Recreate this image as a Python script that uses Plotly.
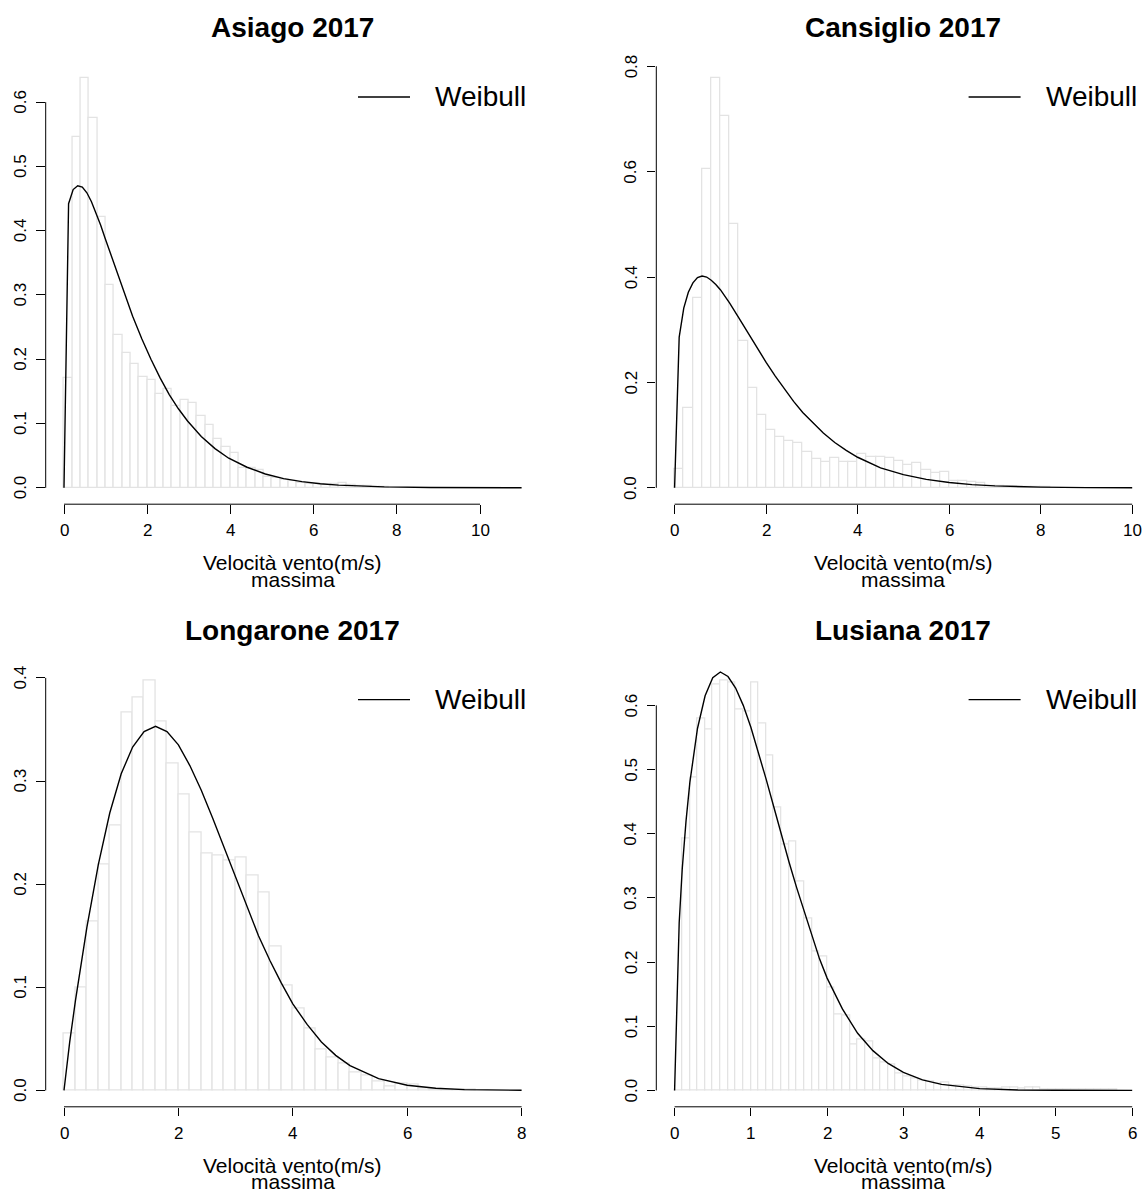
import plotly.graph_objects as go

# ---------------------------------------------------------------
# Maximum wind speed histograms (density) with fitted Weibull curve
# ---------------------------------------------------------------

# Asiago 2017
asiago_bin = 0.2
asiago_density = [0.171, 0.546, 0.637, 0.575, 0.422, 0.315, 0.237, 0.210, 0.193, 0.173,
                  0.168, 0.146, 0.153, 0.128, 0.136, 0.132, 0.112, 0.097, 0.076, 0.064,
                  0.054, 0.031, 0.031, 0.028, 0.017, 0.016, 0.012, 0.010, 0.007, 0.006,
                  0.006, 0.005, 0.006, 0.007, 0.004, 0.003, 0.003, 0.002, 0.001]
asiago_fit_x = [0, 0.11, 0.22, 0.33, 0.44, 0.55, 0.66, 0.77, 0.88, 0.99, 1.21, 1.43, 1.65,
                1.87, 2.09, 2.31, 2.53, 2.75, 2.97, 3.3, 3.63, 3.96, 4.4, 4.84, 5.28, 5.72,
                6.16, 6.6, 7.15, 7.7, 8.8, 9.9, 11.0]
asiago_fit_y = [0, 0.442, 0.464, 0.470, 0.468, 0.459, 0.445, 0.428, 0.409, 0.388, 0.347,
                0.306, 0.267, 0.232, 0.200, 0.171, 0.145, 0.123, 0.104, 0.080, 0.061, 0.046,
                0.032, 0.0215, 0.0144, 0.0096, 0.0063, 0.0042, 0.0024, 0.0014, 0.0005,
                0.00014, 0.00004]

# Cansiglio 2017
cansiglio_bin = 0.2
cansiglio_density = [0.035, 0.152, 0.361, 0.605, 0.777, 0.706, 0.500, 0.279, 0.189, 0.138,
                     0.110, 0.097, 0.089, 0.086, 0.068, 0.054, 0.049, 0.057, 0.049, 0.049,
                     0.064, 0.058, 0.058, 0.056, 0.050, 0.044, 0.048, 0.033, 0.028, 0.030,
                     0.013, 0.013, 0.012, 0.009, 0.004, 0.003, 0.002, 0.002, 0.002, 0.002,
                     0.002]
cansiglio_fit_x = [0, 0.1, 0.2, 0.3, 0.4, 0.5, 0.6, 0.7, 0.8, 0.9, 1.0, 1.2, 1.4, 1.6, 1.8,
                   2.0, 2.2, 2.4, 2.6, 2.8, 3.0, 3.25, 3.5, 3.75, 4.0, 4.5, 5.0, 5.5, 6.0,
                   6.5, 7.0, 8.0, 9.0, 10.0]
cansiglio_fit_y = [0, 0.286, 0.341, 0.371, 0.389, 0.399, 0.402, 0.400, 0.394, 0.386, 0.376,
                   0.351, 0.323, 0.294, 0.266, 0.238, 0.212, 0.187, 0.164, 0.143, 0.125,
                   0.104, 0.086, 0.071, 0.058, 0.038, 0.025, 0.016, 0.010, 0.0061, 0.0037,
                   0.0013, 0.0004, 0.0001]

# Longarone 2017
longarone_bin = 0.2
longarone_density = [0.055, 0.100, 0.164, 0.219, 0.257, 0.366, 0.381, 0.397, 0.358, 0.317,
                     0.287, 0.250, 0.230, 0.228, 0.223, 0.226, 0.208, 0.192, 0.139, 0.102,
                     0.079, 0.060, 0.040, 0.032, 0.026, 0.017, 0.014, 0.009, 0.004, 0.007,
                     0.006, 0.002, 0.001, 0.001, 0.001, 0.001]
longarone_fit_x = [0, 0.1, 0.2, 0.4, 0.6, 0.8, 1.0, 1.2, 1.4, 1.6, 1.8, 2.0, 2.2, 2.4, 2.6,
                   2.8, 3.0, 3.2, 3.4, 3.6, 3.8, 4.0, 4.25, 4.5, 4.75, 5.0, 5.5, 6.0, 6.5,
                   7.0, 8.0]
longarone_fit_y = [0, 0.047, 0.087, 0.158, 0.219, 0.269, 0.307, 0.333, 0.348, 0.353, 0.348,
                   0.335, 0.315, 0.291, 0.264, 0.235, 0.206, 0.177, 0.150, 0.126, 0.104,
                   0.084, 0.064, 0.047, 0.034, 0.024, 0.0115, 0.0050, 0.0021, 0.0008,
                   0.0001]

# Lusiana 2017
lusiana_bin = 0.1
lusiana_density = [0.0, 0.392, 0.487, 0.580, 0.562, 0.632, 0.638, 0.635, 0.593, 0.590,
                   0.635, 0.572, 0.522, 0.441, 0.383, 0.387, 0.326, 0.268, 0.217, 0.208,
                   0.160, 0.118, 0.117, 0.071, 0.079, 0.076, 0.050, 0.043, 0.040, 0.026,
                   0.022, 0.018, 0.016, 0.013, 0.010, 0.012, 0.008, 0.007, 0.006, 0.005,
                   0.004, 0.003, 0.003, 0.004, 0.005, 0.003, 0.004, 0.004, 0.002, 0.002,
                   0.001, 0.001, 0.001, 0.001, 0.001, 0.001, 0.001, 0.001]
lusiana_fit_x = [0, 0.06, 0.1, 0.15, 0.2, 0.3, 0.4, 0.5, 0.6, 0.7, 0.8, 0.9, 1.0, 1.1, 1.2,
                 1.3, 1.4, 1.5, 1.6, 1.7, 1.8, 1.9, 2.0, 2.2, 2.4, 2.6, 2.8, 3.0, 3.25, 3.5,
                 4.0, 4.5, 5.0, 6.0]
lusiana_fit_y = [0, 0.261, 0.345, 0.420, 0.480, 0.564, 0.615, 0.643, 0.652, 0.645, 0.627,
                 0.600, 0.566, 0.527, 0.485, 0.442, 0.398, 0.356, 0.316, 0.278, 0.240,
                 0.205, 0.175, 0.127, 0.089, 0.062, 0.042, 0.028, 0.0165, 0.0094, 0.0028,
                 0.00075, 0.0002, 0.0]

titles = ["Asiago 2017", "Cansiglio 2017", "Longarone 2017", "Lusiana 2017"]
x_limits = [11, 10, 8, 6]
x_ticks = [[0, 2, 4, 6, 8, 10], [0, 2, 4, 6, 8, 10], [0, 2, 4, 6, 8], [0, 1, 2, 3, 4, 5, 6]]
y_ticks = [[0.0, 0.1, 0.2, 0.3, 0.4, 0.5, 0.6], [0.0, 0.2, 0.4, 0.6, 0.8],
           [0.0, 0.1, 0.2, 0.3, 0.4], [0.0, 0.1, 0.2, 0.3, 0.4, 0.5, 0.6]]
x_title = "Velocità vento(m/s)"
x_subtitle = "massima"
legend_label = "Weibull"

panels = [
    (asiago_bin, asiago_density, asiago_fit_x, asiago_fit_y),
    (cansiglio_bin, cansiglio_density, cansiglio_fit_x, cansiglio_fit_y),
    (longarone_bin, longarone_density, longarone_fit_x, longarone_fit_y),
    (lusiana_bin, lusiana_density, lusiana_fit_x, lusiana_fit_y),
]

# ---------------------------------------------------------------
# Page geometry (pixels)
# ---------------------------------------------------------------
W, H = 1142, 1193
COLS = [(45.7, 539.9), (656.3, 1150.5)]   # plot region left/right edges
ROWS = [(62.0, 504.2), (664.6, 1106.8)]   # plot region top/bottom edges

FONT = "Liberation Sans, Arial, Helvetica, sans-serif"
TICK_FONT = 17
BAR_EDGE = "#e3e3e3"
INK = "#000000"

fig = go.Figure()
annotations = []
shapes = []
layout_axes = {}


def px_x(p):
    return p / W


def px_y(p):
    return 1 - p / H


for i, (bw, dens, fx, fy) in enumerate(panels):
    n = i + 1
    col, row = i % 2, i // 2
    xa = "x" if n == 1 else f"x{n}"
    ya = "y" if n == 1 else f"y{n}"
    xkey = "xaxis" if n == 1 else f"xaxis{n}"
    ykey = "yaxis" if n == 1 else f"yaxis{n}"

    left, right = COLS[col]
    top, bottom = ROWS[row]
    right_clip = min(right, W)

    xmax = x_limits[i]
    ymax = max(dens)
    x0 = -0.04 * xmax
    xspan = 1.08 * xmax
    x1 = x0 + (right_clip - left) / (right - left) * xspan

    centers = [bw * (k + 0.5) for k in range(len(dens))]
    fig.add_trace(go.Bar(
        x=centers, y=dens, width=bw,
        marker=dict(color="white", line=dict(color=BAR_EDGE, width=1.3)),
        xaxis=xa, yaxis=ya, showlegend=False, hoverinfo="skip",
    ))
    fig.add_trace(go.Scatter(
        x=fx, y=fy, mode="lines", line=dict(color=INK, width=1.4),
        xaxis=xa, yaxis=ya, showlegend=False, name=legend_label,
    ))

    layout_axes[xkey] = dict(
        domain=[px_x(left), px_x(right_clip)], range=[x0, x1], anchor=ya,
        showgrid=False, zeroline=False, showline=False, ticks="outside",
        tickvals=x_ticks[i], ticklen=8.5, tickwidth=1, tickcolor=INK,
        showticklabels=False, fixedrange=True,
    )
    layout_axes[ykey] = dict(
        domain=[px_y(bottom), px_y(top)], range=[-0.04 * ymax, 1.04 * ymax], anchor=xa,
        showgrid=False, zeroline=False, showline=False, ticks="outside",
        tickvals=y_ticks[i], ticklen=8.5, tickwidth=1, tickcolor=INK,
        showticklabels=False, fixedrange=True,
    )

    # axis lines spanning the tick range
    shapes.append(dict(type="line", xref=xa, yref=f"{ya} domain",
                       x0=x_ticks[i][0], x1=x_ticks[i][-1], y0=0, y1=0,
                       line=dict(color=INK, width=1)))
    shapes.append(dict(type="line", xref=f"{xa} domain", yref=ya,
                       x0=0, x1=0, y0=y_ticks[i][0], y1=y_ticks[i][-1],
                       line=dict(color=INK, width=1)))

    # tick labels
    for v in x_ticks[i]:
        annotations.append(dict(x=v, xref=xa, y=px_y(bottom + 26.3), yref="paper",
                                text=f"{v:g}", showarrow=False, xanchor="center",
                                yanchor="middle",
                                font=dict(family=FONT, size=TICK_FONT, color=INK)))
    for v in y_ticks[i]:
        annotations.append(dict(x=px_x(left - 25.2), xref="paper", y=v, yref=ya,
                                text=f"{v:.1f}", showarrow=False, textangle=-90,
                                xanchor="center", yanchor="middle",
                                font=dict(family=FONT, size=TICK_FONT, color=INK)))

    cx = (left + right) / 2
    # panel title
    annotations.append(dict(x=px_x(cx), xref="paper", y=px_y(top - 34), yref="paper",
                            text=f"<b>{titles[i]}</b>", showarrow=False,
                            xanchor="center", yanchor="middle",
                            font=dict(family=FONT, size=28, color=INK)))
    # x-axis title, two lines
    annotations.append(dict(x=px_x(cx), xref="paper", y=px_y(bottom + 58.5), yref="paper",
                            text=x_title, showarrow=False, xanchor="center", yanchor="middle",
                            font=dict(family=FONT, size=21, color=INK)))
    annotations.append(dict(x=px_x(cx), xref="paper", y=px_y(bottom + 75.0), yref="paper",
                            text=x_subtitle, showarrow=False, xanchor="center", yanchor="middle",
                            font=dict(family=FONT, size=21, color=INK)))

    # legend (no box), top right of the plot region
    ly = top + 35
    shapes.append(dict(type="line", xref="paper", yref="paper",
                       x0=px_x(right - 181.9), x1=px_x(right - 129.9),
                       y0=px_y(ly), y1=px_y(ly), line=dict(color=INK, width=1.3)))
    annotations.append(dict(x=px_x(right - 106.9), xref="paper", y=px_y(ly), yref="paper",
                            text=legend_label, showarrow=False, xanchor="left",
                            yanchor="middle", font=dict(family=FONT, size=28, color=INK)))

fig.update_layout(
    width=W, height=H,
    margin=dict(l=0, r=0, t=0, b=0),
    paper_bgcolor="white", plot_bgcolor="white",
    template="none",
    bargap=0,
    barmode="overlay",
    showlegend=False,
    annotations=annotations,
    shapes=shapes,
    font=dict(family=FONT, color=INK),
    **layout_axes,
)

fig.write_html("out.html")
